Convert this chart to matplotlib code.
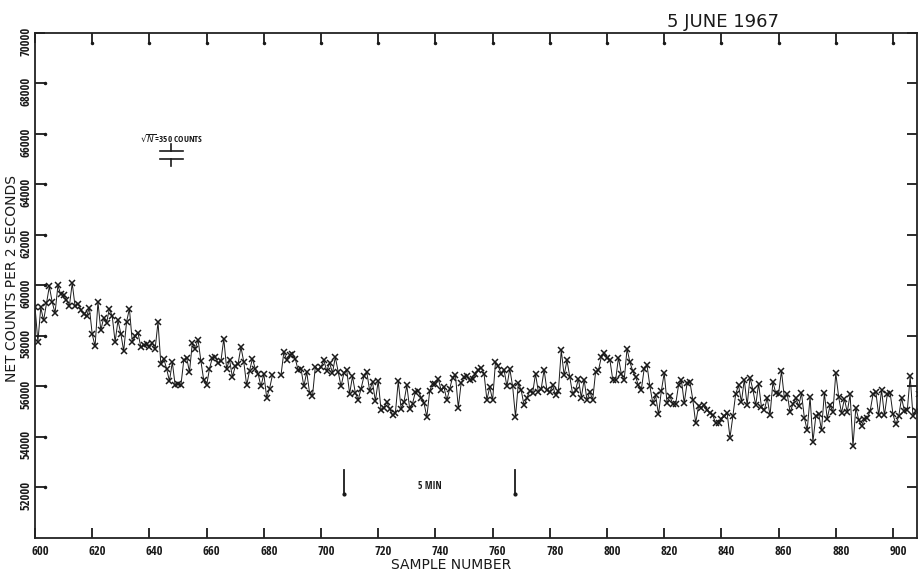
import numpy as np
import matplotlib
matplotlib.use("Agg")
import matplotlib.pyplot as plt
from matplotlib import font_manager as fm
from matplotlib.transforms import ScaledTranslation, blended_transform_factory

# Net counts per 2-second sample, consecutive sample numbers starting at 600.
# None marks samples that were not recorded.
first_sample = 600
net_counts = [
    59140, 57760, 59130, 58610, 59290, 59960, 59340, 58900, 60000, 59640,   # 600
    59600, 59430, 59170, 60090, 59170, 59280, 59040, 58880, 58770, 59120,   # 610
    58060, 57590, 59340, 58220, 58720, 58510, 59080, 58770, 57760, 58610,   # 620
    58090, 57400, 58550, 59080, 57760, 57980, 58110, 57560, 57620, 57660,   # 630
    57560, 57720, 57490, 58550, 56870, 57100, 56700, 56210, 56960, 56040,   # 640
    56110, 56040, 57030, 57140, 56570, 57720, 57490, 57850, 57000, 56240,   # 650
    56040, 56700, 57140, 57160, 56930, 57000, 57890, 56700, 57060, 56370,   # 660
    56790, 56900, 57560, 56960, 56040, 56610, 57100, 56700, 56500, 56000,   # 670
    56500, 55550, 55910, 56440, None, None, 56440, 57360, 57060, 57230,     # 680
    57270, 57100, 56630, 56700, 56000, 56570, 55740, 55600, 56770, 56630,   # 690
    56770, 57030, 56610, 56930, 56530, 57160, 56570, 56000, 56530, 56630,   # 700
    55710, 56400, 55740, 55470, 55910, 56400, 56570, 55830, 56170, 55420,   # 710
    56210, 55050, 55160, 55380, 55120, 54850, 54940, 56210, 55120, 55380,   # 720
    56040, 55120, 55320, 55780, 55820, 55550, 55340, 54790, 55820, 56110,   # 730
    56080, 56310, 55840, 55970, 55450, 55910, 56350, 56440, 55160, 56130,   # 740
    56370, 56400, 56240, 56310, 56480, 56660, 56740, 56500, 55470, 55970,   # 750
    55450, 56960, 56790, 56500, 56660, 56000, 56700, 56000, 54790, 56130,   # 760
    55840, 55250, 55550, 55820, 55740, 56500, 55780, 55910, 56660, 55840,   # 770
    55780, 56040, 55640, 55820, 57430, 56440, 57030, 56370, 55680, 55840,   # 780
    56310, 55550, 56270, 55450, 55780, 55470, 56570, 56630, 57160, 57320,   # 790
    57140, 57060, 56270, 56240, 57140, 56500, 56240, 57490, 56960, 56610,   # 800
    56370, 56040, 55870, 56700, 56830, 56000, 55340, 55640, 54890, 55820,   # 810
    56530, 55340, 55600, 55320, 55290, 56040, 56270, 55340, 56130, 56170,   # 820
    55470, 54550, 55210, 55160, 55250, 55080, 54940, 54850, 54550, 54550,   # 830
    54720, 54810, 54940, 53970, 54810, 55710, 56040, 55380, 56270, 55250,   # 840
    56350, 55870, 55250, 56110, 55180, 55050, 55550, 54850, 56170, 55740,   # 850
    55710, 56610, 55550, 55710, 54980, 55290, 55550, 55210, 55740, 54760,   # 860
    54260, 55580, 53810, 54810, 54920, 54260, 55740, 54720, 55250, 54980,   # 870
    56530, 55580, 54940, 55510, 54980, 55680, 53620, 55160, 54680, 54420,   # 880
    54720, 54760, 55020, 55680, 55780, 54850, 55870, 54850, 55680, 55740,   # 890
    54890, 54500, 54810, 55550, 55020, 55050, 56400, 54810, 55020, 55680,   # 900
]

x_tick_values = [600, 620, 640, 660, 680, 700, 720, 740, 760, 780, 800,
                 820, 840, 860, 880, 900]
y_tick_values = [52000, 54000, 56000, 58000, 60000, 62000, 64000, 66000,
                 68000, 70000]

# sqrt(N) reference bar and the 5-minute time scale markers
sqrt_n_counts = 350
bar_sample = 647.7
five_min_samples = [708, 768]


def pick_family(candidates):
    for name, stretch in candidates:
        try:
            fm.findfont(fm.FontProperties(family=name, stretch=stretch),
                        fallback_to_default=False)
            return name, stretch
        except Exception:
            continue
    return "DejaVu Sans", "normal"


narrow_family, narrow_stretch = pick_family([
    ("Liberation Sans Narrow", "normal"),
    ("DejaVu Sans Condensed", "normal"),
    ("Open Sans Condensed", "normal"),
    ("DejaVu Sans", "condensed"),
])
narrow = dict(family=narrow_family, stretch=narrow_stretch)
ink = "#1a1a1a"

samples = first_sample + np.arange(len(net_counts))
values = np.array([np.nan if v is None else v for v in net_counts], dtype=float)

fig = plt.figure(figsize=(9.22, 5.71), dpi=100)
ax = fig.add_axes([0.038, 0.058, 0.9566, 0.8844])

ax.plot(samples, values, color=ink, linewidth=0.7,
        marker="x", markersize=5, markeredgewidth=1.1, clip_on=True)

ax.set_xlim(600, 908.4)
ax.set_ylim(50000, 70000)

ax.set_xticks(x_tick_values)
ax.set_yticks(y_tick_values)
ax.set_xticklabels([str(v) for v in x_tick_values], fontsize=9,
                   color="#444444", **narrow)
ax.set_yticklabels([str(v) for v in y_tick_values], fontsize=9,
                   rotation=90, va="center", color="#444444", **narrow)
tick_len_pt = 7
ax.tick_params(direction="in", length=tick_len_pt, width=1.3, top=True,
               right=True, labeltop=False, labelright=False, colors=ink)
ax.tick_params(axis="x", pad=5)
ax.tick_params(axis="y", pad=1.5)

# plotter labels sit slightly right of (x) and below (y) their ticks
for lab in ax.get_xticklabels():
    lab.set_transform(lab.get_transform() +
                      ScaledTranslation(5 / 100, 0, fig.dpi_scale_trans))
for lab in ax.get_yticklabels():
    lab.set_transform(lab.get_transform() +
                      ScaledTranslation(0, -8 / 100, fig.dpi_scale_trans))

# pen dots at the inner ends of the top and left ticks
top_ticks = [v for v in x_tick_values if v > 600]
top_tr = blended_transform_factory(ax.transData, ax.transAxes) + \
    ScaledTranslation(0, -tick_len_pt / 72, fig.dpi_scale_trans)
ax.plot(top_ticks, [1.0] * len(top_ticks), linestyle="none", marker="o",
        markersize=1.5, color=ink, transform=top_tr, clip_on=False)
left_tr = blended_transform_factory(ax.transAxes, ax.transData) + \
    ScaledTranslation(tick_len_pt / 72, 0, fig.dpi_scale_trans)
ax.plot([0.0] * len(y_tick_values[:-1]), y_tick_values[:-1],
        linestyle="none", marker="o", markersize=1.5, color=ink,
        transform=left_tr, clip_on=False)

for side in ax.spines.values():
    side.set_linewidth(1.3)
    side.set_color("#222222")

ax.set_xlabel("SAMPLE NUMBER", fontsize=10, labelpad=0, x=0.472, color=ink)
ax.set_ylabel("NET COUNTS PER 2 SECONDS", fontsize=10, labelpad=1, y=0.513,
              color=ink)

fig.text(0.784, 0.962, "5 JUNE 1967", fontsize=13, ha="center", va="center",
         color=ink)

# sqrt(N) error reference
ax.text(bar_sample, 65850, r"$\sqrt{N}$=350 COUNTS", fontsize=6.5,
        ha="center", va="center", color=ink, **narrow)
half = 3.9
ax.plot([bar_sample - half, bar_sample + half], [65330, 65330],
        color=ink, linewidth=1.2)
ax.plot([bar_sample - half, bar_sample + half], [65010, 65010],
        color=ink, linewidth=1.2)
ax.plot([bar_sample, bar_sample], [65330, 65330 + sqrt_n_counts * 0.8],
        color=ink, linewidth=1.2)
ax.plot([bar_sample, bar_sample], [65010, 65010 - sqrt_n_counts * 0.8],
        color=ink, linewidth=1.2)

# 5 minute scale
for s in five_min_samples:
    ax.plot([s, s], [51720, 52700], color=ink, linewidth=1.3)
    ax.plot([s], [51720], marker="o", markersize=2, color=ink)
ax.text(sum(five_min_samples) / 2, 52030, "5 MIN", fontsize=7,
        ha="center", va="center", color=ink, **narrow)

fig.savefig("out.png", dpi=100)
